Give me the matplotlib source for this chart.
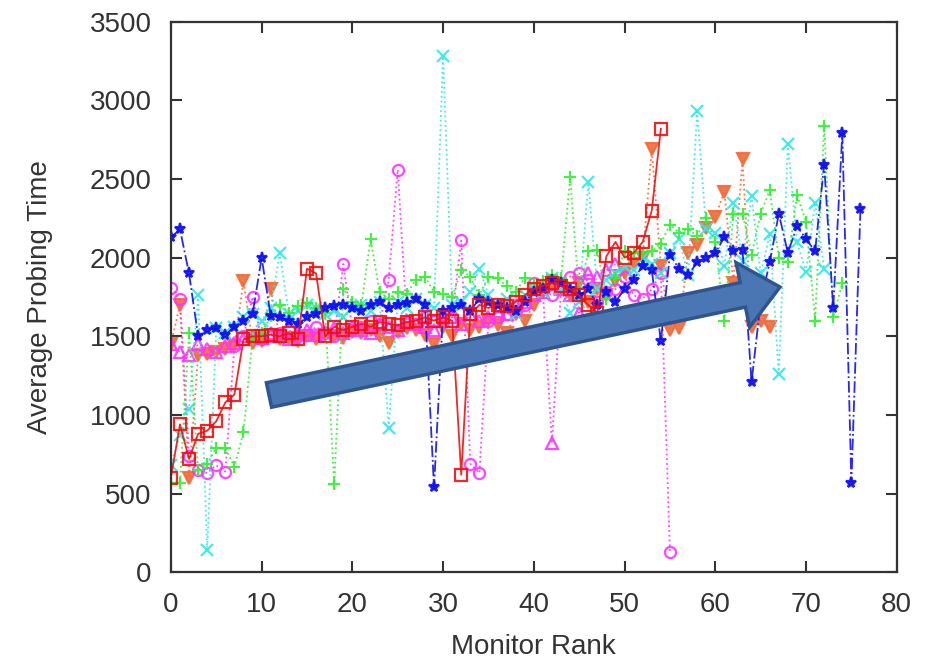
import numpy as np
import matplotlib
matplotlib.use('Agg')
import matplotlib.pyplot as plt
from matplotlib.patches import FancyArrow

# average probing time per monitor rank, one list per run
red_sq = [600, 940, 720, 880, 900, 960, 1080, 1130, 1480, 1500, 1500, 1510, 1500, 1520, 1480,
          1930, 1900, 1500, 1560, 1540, 1560, 1580, 1560, 1590, 1580, 1570, 1590, 1600, 1620,
          1600, 1620, 1600, 620, 1640, 1700, 1680, 1700, 1690, 1720, 1760, 1800, 1820, 1840,
          1820, 1800, 1760, 1700, 1650, 2010, 2100, 2000, 2030, 2100, 2300, 2820]
orange_tri = [1450, 1700, 600, 1380, 1390, 1400, 1420, 1440, 1850, 1460, 1470, 1800, 1480, 1490,
              1470, 1500, 1480, 1510, 1500, 1490, 1530, 1520, 1540, 1500, 1460, 1530, 1550, 1540,
              1510, 1450, 1560, 1500, 1580, 1540, 1560, 1600, 1570, 1520, 1640, 1600, 1700, 1780,
              1840, 1800, 1760, 1840, 1720, 1800, 1760, 1850, 1900, 1960, 2000, 2690, 1950, 1540,
              1550, 2030, 2080, 2190, 2260, 2420, 1840, 2630, 1560, 1600, 1560]
green_plus = [570, 570, 1520, 650, 690, 790, 790, 670, 890, 1490, 1520, 1630, 1700, 1650, 1690,
              1710, 1680, 1650, 560, 1800, 1720, 1700, 2120, 1780, 1740, 1780, 1770, 1860, 1880,
              1780, 1770, 1750, 1920, 1880, 1760, 1880, 1870, 1820, 1780, 1870, 1830, 1850, 1890,
              1870, 2510, 1760, 2040, 2050, 1740, 1870, 2040, 2030, 2030, 2040, 2090, 2210, 2160,
              2180, 2140, 2250, 2100, 1600, 2280, 2280, 2020, 2280, 2430, 2000, 1970, 2400, 2230,
              1600, 2840, 1620, 1840]
blue_star = [2130, 2180, 1900, 1500, 1540, 1550, 1510, 1560, 1600, 1640, 2000, 1630, 1620, 1600,
             1580, 1620, 1640, 1680, 1690, 1700, 1680, 1660, 1700, 1720, 1680, 1700, 1710, 1740,
             1700, 540, 1660, 1680, 1700, 1660, 1740, 1720, 1700, 1680, 1660, 1720, 1780, 1800,
             1860, 1840, 1800, 1760, 1800, 1700, 1780, 1720, 1800, 1860, 1950, 1920, 1470, 2020,
             1930, 1890, 1970, 2000, 2030, 2130, 2040, 2050, 1210, 1720, 1970, 2280, 2030, 2200,
             2120, 2040, 2590, 1680, 2790, 570, 2310]
cyan_x = [680, 870, 1040, 1760, 140, 1550, 1520, 1560, 1620, 1640, 1600, 1680, 2030, 1640, 1660,
          1700, 1680, 1640, 1660, 1620, 1680, 1700, 1660, 1720, 920, 1720, 1680, 1740, 1700, 1680,
          3280, 1700, 1720, 1780, 1930, 1760, 1700, 1740, 1640, 1760, 1800, 1780, 1870, 1800, 1650,
          1720, 2480, 1800, 1860, 1900, 1940, 1920, 2000, 1960, 1900, 2030, 2120, 1890, 2930, 2180,
          2160, 1950, 2350, 1980, 2390, 1900, 2150, 1260, 2720, 2100, 1910, 2350, 1930]
magenta_o = [1810, 1740, 740, 650, 630, 680, 640, 1440, 1500, 1750, 1480, 1500, 1520, 1540, 1500,
             1510, 1560, 1520, 1500, 1960, 1540, 1560, 1600, 1580, 1860, 2560, 1600, 1580, 1620,
             1600, 1640, 1620, 2110, 690, 630, 1600, 1620, 1640, 1660, 1700, 1840, 1800, 1760,
             1820, 1880, 1900, 1860, 1720, 1780, 1800, 1880, 1760, 1740, 1800, 1900, 130]
magenta_tri = [1450, 1400, 1380, 1450, 1420, 1400, 1440, 1460, 1480, 1500, 1490, 1520, 1500, 1480,
               1520, 1540, 1510, 1530, 1550, 1520, 1560, 1540, 1520, 1580, 1560, 1540, 1600, 1580,
               1560, 1540, 1600, 1620, 1580, 1640, 1600, 1620, 1660, 1640, 1700, 1720, 1760, 1780,
               820, 1800, 1760, 1650, 1900, 1880, 1920, 1960]

plt.rcParams['font.family'] = ['Liberation Sans', 'DejaVu Sans']

fig = plt.figure(figsize=(9.39, 6.6), dpi=100)
ax = fig.add_axes([0.182, 0.133, 0.773, 0.834])

series = [
    (orange_tri, '#F26B3A', 'v', ':', 'full'),
    (magenta_tri, '#FF33FF', '^', ':', 'none'),
    (magenta_o, '#FF33FF', 'o', ':', 'none'),
    (cyan_x, '#33E8E8', 'x', ':', 'full'),
    (green_plus, '#33EE33', '+', ':', 'full'),
    (blue_star, '#1010F0', '*', '-.', 'full'),
    (red_sq, '#EE1111', 's', '-', 'none'),
]
for vals, col, mk, ls, fill in series:
    x = np.arange(len(vals))
    ax.plot(x, vals, color=col, ls=ls, lw=1.3, marker=mk, ms=8,
            mew=1.6, fillstyle=fill, alpha=0.9)

ax.set_xlim(0, 80)
ax.set_ylim(0, 3500)
ax.set_xticks(range(0, 81, 10))
ax.set_yticks(range(0, 3501, 500))
ax.tick_params(direction='in', length=8, width=1.5, top=True, right=True,
               labelsize=20, colors='#333333')
ax.tick_params(axis='x', pad=14)
ax.tick_params(axis='y', pad=14)
for s in ax.spines.values():
    s.set_linewidth(1.6)
    s.set_color('#333333')
ax.set_xlabel('Monitor Rank', fontsize=20, color='#333333', labelpad=12)
ax.set_ylabel('Average Probing Time', fontsize=20, color='#333333', labelpad=26)

# trend arrow drawn on top, in inches so the shape is not skewed
arrow = FancyArrow(2.69, 2.65, 5.11, 1.08, width=0.25, head_width=0.66, head_length=0.38,
                   length_includes_head=True, transform=fig.dpi_scale_trans,
                   facecolor='#4A77B4', edgecolor='#2E5590', lw=2.5, zorder=10)
fig.patches.append(arrow)

fig.savefig('out.png', dpi=100)
